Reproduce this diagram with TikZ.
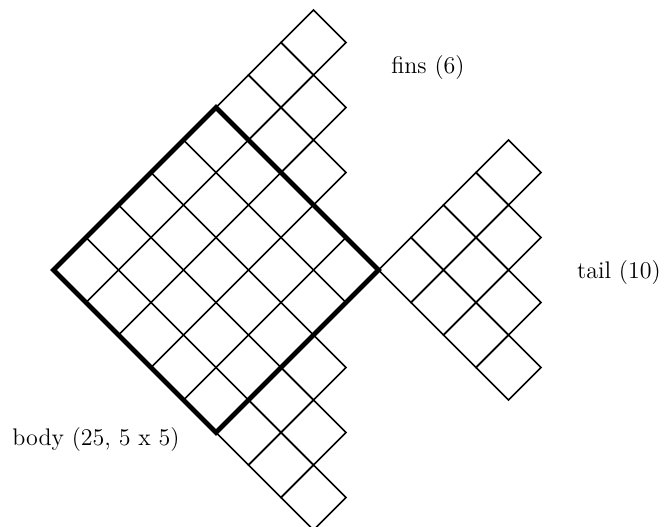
\documentclass[tikz,border=0pt]{standalone}
\usepackage{tikz}

\begin{document}
\begin{tikzpicture}[x=0.5pt,y=-0.5pt,
  cell/.style={line width=0.85pt},
  body/.style={line width=2.4pt},
  lbl/.style={font=\fontsize{12}{14}\selectfont,inner sep=0pt}]
\clip (0,0) rectangle (664,526);
\begin{scope}[shift={(53.5,270)},rotate=-45,x=22.98pt,y=22.98pt]
% body 5x5
\foreach \k in {1,...,4}{
  \draw[cell] (\k,0) -- (\k,5);
  \draw[cell] (0,\k) -- (5,\k);
}
% fins above and below
\foreach \i in {0,...,2}{
  \pgfmathtruncatemacro\n{2-\i}
  \foreach \j in {0,...,\n}{
    \draw[cell] (\j,5+\i) rectangle +(1,1);
    \draw[cell] (5+\i,\j) rectangle +(1,1);
  }
}
% tail
\foreach \i in {0,...,3}{
  \pgfmathtruncatemacro\n{3-\i}
  \foreach \j in {0,...,\n}
    \draw[cell] (5+\i,5+\j) rectangle +(1,1);
}
\draw[body] (0,0) rectangle (5,5);
\end{scope}
\node[lbl] (fins) at (428,68) {fins (6)};
\node[lbl] (tail) at (619,273) {tail (10)};
\node[lbl] (bodylbl) at (96,440) {body (25, 5 x 5)};
\end{tikzpicture}
\end{document}
